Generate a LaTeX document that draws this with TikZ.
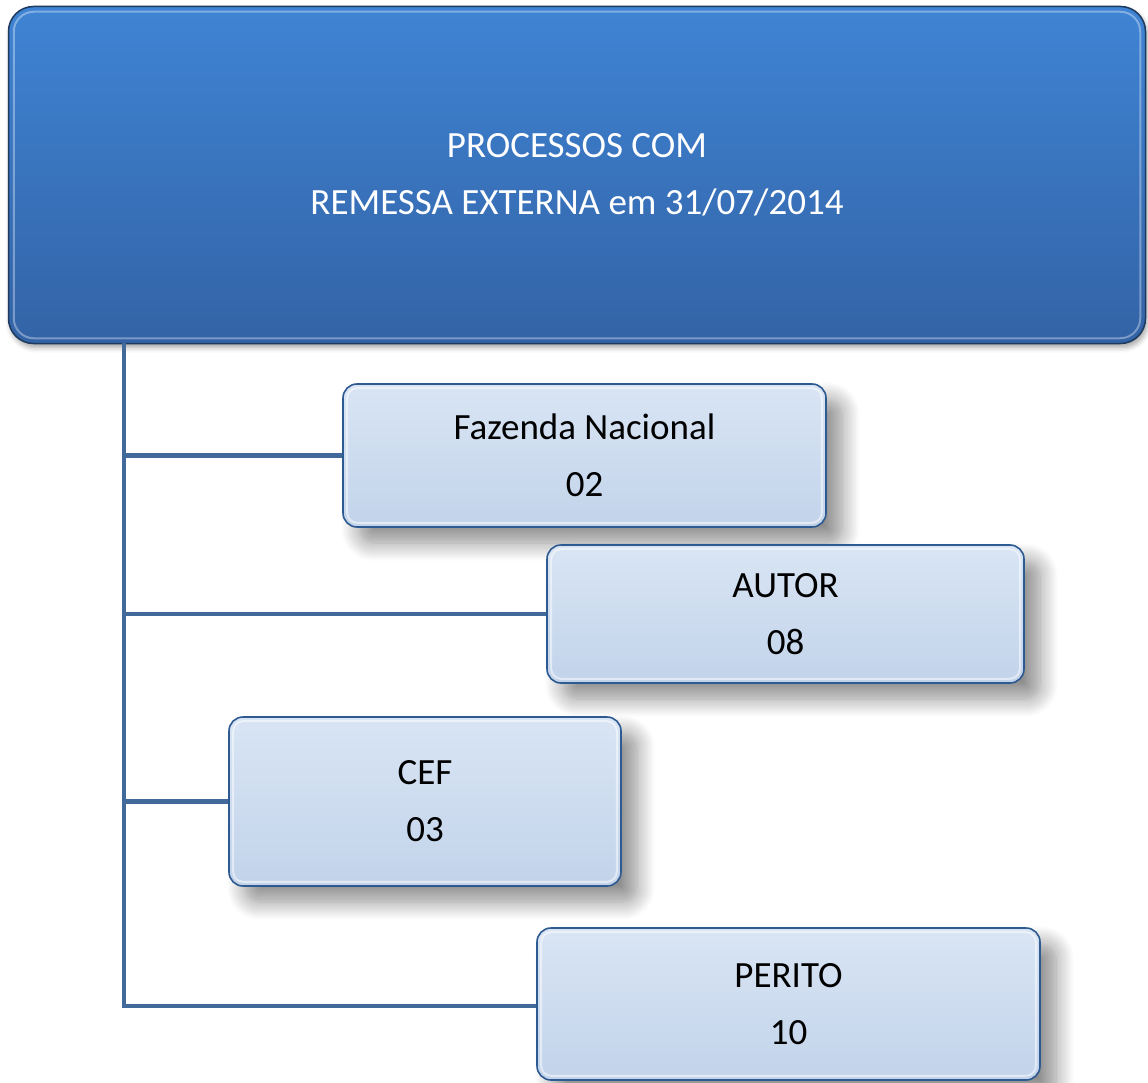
\documentclass[tikz,border=0pt]{standalone}
\usepackage{fontspec}
\setmainfont{Carlito}
\usetikzlibrary{shadows.blur}
\definecolor{topA}{HTML}{3F84D4}
\definecolor{topB}{HTML}{3363A6}
\definecolor{topEdge}{HTML}{1E3A5E}
\definecolor{boxA}{HTML}{D9E5F4}
\definecolor{boxB}{HTML}{C2D3EA}
\definecolor{boxEdge}{HTML}{2E5A92}
\definecolor{lineC}{HTML}{41699A}
\tikzset{
  x=1pt, y=-1pt,
  topbox/.style={draw=topEdge, line width=1.5pt, rounded corners=25pt,
    top color=topA, bottom color=topB, text=white, align=center,
    font=\fontsize{37}{57}\selectfont, inner sep=0pt,
    blur shadow={shadow xshift=2pt, shadow yshift=-4pt, shadow blur radius=5pt, shadow opacity=35}},
  itembox/.style={draw=boxEdge, line width=1.6pt, rounded corners=14pt,
    top color=boxA, bottom color=boxB, text=black, align=center,
    font=\fontsize{37}{57}\selectfont, inner sep=0pt,
    blur shadow={shadow xshift=16pt, shadow yshift=-16pt, shadow blur radius=18pt, shadow blur steps=14, shadow opacity=45}},
  rim/.style={draw=white, line width=2pt, opacity=0.35},
  trunk/.style={draw=lineC, line width=4.5pt}
}
\begin{document}
\begin{tikzpicture}
\useasboundingbox (0,0) rectangle (1148,1083);
\node[topbox, minimum width=1137pt, minimum height=337pt] (top) at (577,175)
  {PROCESSOS COM\\REMESSA EXTERNA em 31/07/2014};
\draw[rim, rounded corners=20pt] ([xshift=6pt,yshift=-6pt]top.north west) rectangle ([xshift=-6pt,yshift=6pt]top.south east);
\coordinate (t0) at (124,343);
\coordinate (t4) at (124,1006);
\node[itembox, minimum width=483pt, minimum height=143pt] (fn) at (584.5,455.5)
  {Fazenda Nacional\\02};
\node[itembox, minimum width=477pt, minimum height=138pt] (au) at (785.5,614)
  {AUTOR\\08};
\node[itembox, minimum width=392pt, minimum height=169pt] (cef) at (425,801.5)
  {CEF\\03};
\node[itembox, minimum width=503pt, minimum height=152pt] (pe) at (788.5,1004)
  {PERITO\\10};
\foreach \n in {fn,au,cef,pe}{
  \draw[rim, rounded corners=10pt, opacity=0.5] ([xshift=5pt,yshift=-5pt]\n.north west) rectangle ([xshift=-5pt,yshift=5pt]\n.south east);
}
\draw[trunk] (t0) -- (t4) -- (pe.west |- t4);
\draw[trunk] (fn.west -| t0) -- (fn.west);
\draw[trunk] (au.west -| t0) -- (au.west);
\draw[trunk] (cef.west -| t0) -- (cef.west);
\end{tikzpicture}
\end{document}
